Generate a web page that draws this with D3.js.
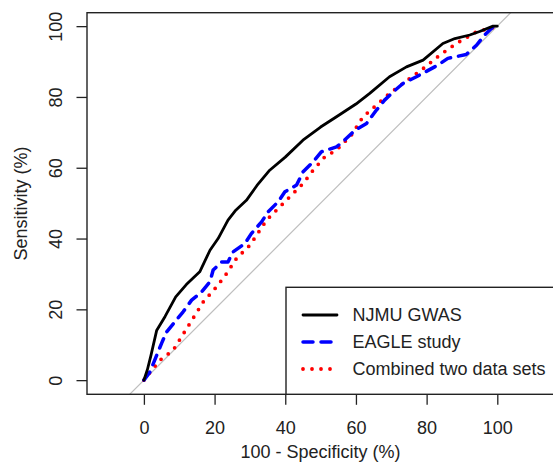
<!DOCTYPE html>
<html>
<head>
<meta charset="utf-8">
<script src="https://cdn.jsdelivr.net/npm/d3@7"></script>
<style>
  body { margin: 0; background: #fff; }
  text { font-family: Arial, "Liberation Sans", sans-serif; fill: #222; }
</style>
</head>
<body>
<svg id="chart"></svg>
<script>
// values, (100 - specificity, sensitivity) in %
var njmu = [
  [0,0],[1,3],[2,7],[3.6,14],[6,18],[9,23.5],[12,27],[15.8,30.6],[18.7,36.7],[21,40],
  [23.8,45.2],[26,48],[29,50.8],[32,55],[35.6,59.3],[40,63],[45,67.8],[50,71.5],[54.5,74.4],
  [60,78],[63.9,81],[69.5,85.7],[74.3,88.5],[79,90.4],[84.6,95.1],[88,96.5],[92.2,97.5],
  [95,98.5],[98.8,100],[100,100]
];
var eagle = [
  [0,0],[1.7,2.3],[5,10.4],[6.4,13.6],[11.1,19.3],[13.5,22.6],[16.3,24.9],[18.7,27.8],
  [19.6,31.1],[22,33.4],[23.8,33.4],[25.2,36.2],[28.6,38.6],[30.4,41.4],[33.3,44.7],
  [35.1,47.5],[38,50.4],[39.9,53.2],[43.2,55.1],[45,58.8],[47.9,61.7],[50.2,64.5],
  [54.5,65.9],[56.8,67.8],[59.7,70.6],[63,72.5],[65.8,76.3],[68.1,79.1],[70.5,81.4],
  [73.3,83.8],[77.1,85.7],[83.2,89],[86,90.9],[91.2,92],[94.1,94.6],[96.4,97.5],
  [98.8,99.8],[100,100]
];
var combined = [
  [0,0],[4.5,5.6],[8.3,8.5],[13,16],[16.8,22.1],[20.6,26.4],[23.4,30.1],[26.2,34.4],
  [30,38.1],[34.7,45.2],[38.5,49],[42.2,52.7],[45,55.5],[47.9,59.3],[51.2,63.1],[54.5,65],
  [58.7,69.2],[62,74.4],[65.8,77.7],[69.5,81],[73.3,83.8],[79,88],[83.7,91.8],[88.4,95.1],
  [94.1,98.4],[99.7,99.8],[100,100]
];
var xTicks = [0, 20, 40, 60, 80, 100];
var yTicks = [0, 20, 40, 60, 80, 100];

var series = [
  {name: 'NJMU GWAS', values: njmu, color: '#000000', dash: null, width: 2.8, cap: 'round'},
  {name: 'EAGLE study', values: eagle, color: '#0000ff', dash: '10,8', width: 3.5, cap: 'round'},
  {name: 'Combined two data sets', values: combined, color: '#ff0000', dash: '0,9', width: 3.8, cap: 'round'}
];

var width = 553, height = 474;
var box = {left: 87, right: 554.2, top: 12.7, bottom: 394.3};
var fs = 18;

var svg = d3.select('#chart').attr('width', width).attr('height', height);

var xscale = d3.scaleLinear().domain([-16.1, 116.1]).range([box.left, box.right]);
var yscale = d3.scaleLinear().domain([-4, 103.8]).range([box.bottom, box.top]);

// clip to plot region
svg.append('clipPath').attr('id', 'plotclip')
  .append('rect')
  .attr('x', box.left).attr('y', box.top)
  .attr('width', box.right - box.left).attr('height', box.bottom - box.top);

var plot = svg.append('g').attr('clip-path', 'url(#plotclip)');

// chance diagonal
plot.append('line')
  .attr('x1', xscale(-10)).attr('y1', yscale(-10))
  .attr('x2', xscale(110)).attr('y2', yscale(110))
  .attr('stroke', '#bebebe').attr('stroke-width', 1.2);

var line = d3.line().x(d => xscale(d[0])).y(d => yscale(d[1]));

// draw in reverse so black ends up on top
series.slice().reverse().forEach(function(s) {
  plot.append('path')
    .datum(s.values)
    .attr('d', line)
    .attr('fill', 'none')
    .attr('stroke', s.color)
    .attr('stroke-width', s.width)
    .attr('stroke-linecap', s.cap)
    .attr('stroke-linejoin', 'round')
    .attr('stroke-dasharray', s.dash);
});

// axes
var xaxis = d3.axisBottom(xscale).tickValues(xTicks).tickSize(10.5).tickPadding(16).tickSizeOuter(0);
var gx = svg.append('g').attr('transform', `translate(0, ${box.bottom})`).call(xaxis);
gx.select('.domain').remove();
gx.selectAll('line').attr('stroke', '#222').attr('stroke-width', 1.3);
gx.selectAll('text').attr('font-size', fs).attr('fill', '#222');

var yaxis = d3.axisLeft(yscale).tickValues(yTicks).tickSize(10.5).tickSizeOuter(0);
var gy = svg.append('g').attr('transform', `translate(${box.left}, 0)`).call(yaxis);
gy.select('.domain').remove();
gy.selectAll('line').attr('stroke', '#222').attr('stroke-width', 1.3);
gy.selectAll('text')
  .attr('font-size', fs).attr('fill', '#222')
  .attr('x', 0).attr('y', 0).attr('dy', '0.35em')
  .attr('text-anchor', 'middle')
  .attr('transform', 'translate(-31,0) rotate(-90)');

// plot box
svg.append('rect')
  .attr('x', box.left).attr('y', box.top)
  .attr('width', box.right - box.left).attr('height', box.bottom - box.top)
  .attr('fill', 'none').attr('stroke', '#222').attr('stroke-width', 1.4);

// axis titles
svg.append('text')
  .attr('x', (box.left + box.right) / 2).attr('y', 457.5)
  .attr('text-anchor', 'middle').attr('font-size', fs)
  .text('100 - Specificity (%)');

svg.append('text')
  .attr('transform', `translate(27, ${(box.top + box.bottom) / 2}) rotate(-90)`)
  .attr('text-anchor', 'middle').attr('font-size', fs)
  .text('Sensitivity (%)');

// legend
var legend = svg.append('g');
legend.append('rect')
  .attr('x', 286).attr('y', 287.3)
  .attr('width', box.right - 286).attr('height', box.bottom - 287.3)
  .attr('fill', '#fff').attr('stroke', '#222').attr('stroke-width', 1.4);

var rows = legend.selectAll('g.row').data(series).enter().append('g')
  .attr('class', 'row')
  .attr('transform', (d, i) => `translate(0, ${315 + i * 27})`);

rows.append('line')
  .attr('x1', 303).attr('x2', 337)
  .attr('stroke', d => d.color)
  .attr('stroke-width', d => d.width)
  .attr('stroke-linecap', d => d.cap)
  .attr('stroke-dasharray', d => d.dash);

rows.append('text')
  .attr('x', 352.5).attr('dy', '0.35em')
  .attr('font-size', fs)
  .text(d => d.name);
</script>
</body>
</html>
